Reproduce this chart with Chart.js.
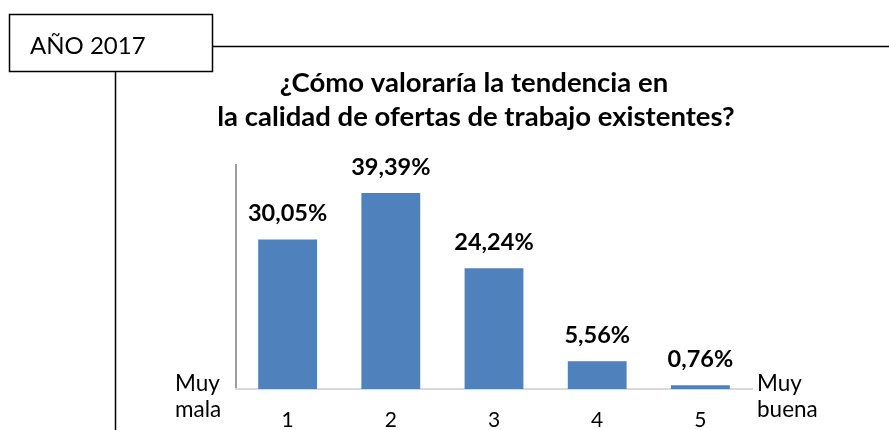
<!DOCTYPE html>
<html lang="es">
<head>
    <meta charset="UTF-8">
    <title>Año 2017</title>
    <style>
        body { margin: 0; background: #fff; }
        .box { position: relative; width: 889px; height: 430px; }
    </style>
</head>
<body>
    <div class="box">
        <canvas id="chart1"></canvas>
    </div>
    <script src="https://cdn.jsdelivr.net/npm/chart.js"></script>
    <script>
        // datos
        var categorias = ['1', '2', '3', '4', '5'];
        var porcentajes = [30.05, 39.39, 24.24, 5.56, 0.76];
        var etiquetas = ['30,05%', '39,39%', '24,24%', '5,56%', '0,76%'];
        var titulo = ['¿Cómo valoraría la tendencia en', 'la calidad de ofertas de trabajo existentes?'];
        var textoAnio = 'AÑO 2017';
        var extremoIzq = ['Muy', 'mala'];
        var extremoDer = ['Muy', 'buena'];

        var fuente = 'Lato, "Open Sans", sans-serif';

        // marco, titulo y etiquetas de los extremos
        var decoracion = {
            id: 'decoracion',
            beforeDraw(chart) {
                var c = chart.ctx;
                c.save();
                c.strokeStyle = '#000';
                c.lineWidth = 1.5;
                c.strokeRect(9.5, 14.5, 203, 57);
                c.beginPath();
                c.moveTo(212, 46.5);
                c.lineTo(889, 46.5);
                c.moveTo(115.5, 72);
                c.lineTo(115.5, 430);
                c.stroke();

                c.fillStyle = '#000';
                c.textBaseline = 'alphabetic';
                c.textAlign = 'left';
                c.font = '24px ' + fuente;
                c.fillText(textoAnio, 30, 54);

                c.font = 'bold 27.5px ' + fuente;
                c.textAlign = 'center';
                c.fillText(titulo[0], 474, 92);
                c.fillText(titulo[1], 476, 126);

                c.font = '22.5px ' + fuente;
                c.textAlign = 'left';
                c.fillText(extremoIzq[0], 175, 391);
                c.fillText(extremoIzq[1], 175, 417);
                c.fillText(extremoDer[0], 757, 391);
                c.fillText(extremoDer[1], 757, 417);
                c.restore();
            },
            afterDatasetsDraw(chart) {
                var c = chart.ctx;
                var meta = chart.getDatasetMeta(0);
                c.save();
                c.fillStyle = '#000';
                c.font = 'bold 23.5px ' + fuente;
                c.textAlign = 'center';
                c.textBaseline = 'alphabetic';
                meta.data.forEach(function (barra, i) {
                    c.fillText(etiquetas[i], barra.x, barra.y - 18);
                });
                c.restore();
            }
        };

        var chart1 = new Chart(document.getElementById('chart1'), {
            type: 'bar',
            data: {
                labels: categorias,
                datasets: [{
                    data: porcentajes,
                    backgroundColor: '#4f81bd',
                    borderWidth: 0,
                    barPercentage: 0.57,
                    categoryPercentage: 1
                }]
            },
            options: {
                responsive: true,
                maintainAspectRatio: false,
                animation: false,
                layout: { padding: { left: 236, right: 137, top: 165, bottom: 0 } },
                plugins: {
                    legend: { display: false },
                    tooltip: { enabled: false }
                },
                scales: {
                    y: {
                        min: 0,
                        max: 45,
                        ticks: { display: false },
                        grid: { display: false },
                        border: { display: true, color: '#9c9c9c', width: 2 },
                        afterFit: function (s) { s.width = 0; }
                    },
                    x: {
                        grid: { display: false, drawTicks: false },
                        border: { display: true, color: '#d9d9d9', width: 2 },
                        ticks: {
                            color: '#000',
                            padding: 19,
                            font: { family: fuente, size: 21 }
                        },
                        afterFit: function (s) { s.height = 41; }
                    }
                }
            },
            plugins: [decoracion]
        });
    </script>
</body>
</html>
